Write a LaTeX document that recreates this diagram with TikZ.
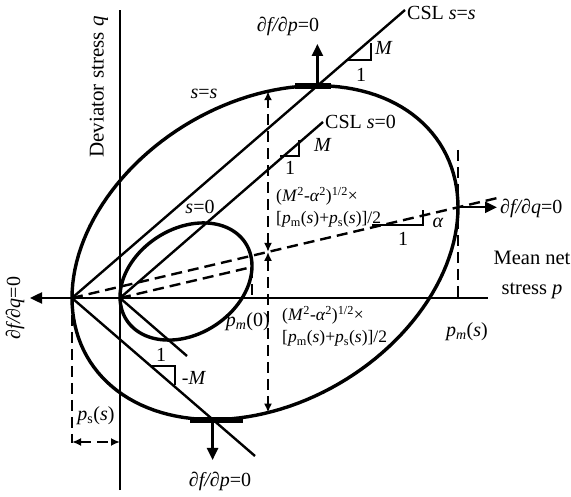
\documentclass[tikz,border=0pt]{standalone}
\usepackage{fontspec}
\setmainfont{Liberation Serif}
\usetikzlibrary{arrows.meta}

\tikzset{
  curve/.style={line width=3.4pt},
  ln/.style={line width=2.4pt},
  dsh/.style={line width=2.4pt, dash pattern=on 11pt off 6pt},
  tip/.style={-{Triangle[length=12pt,width=11pt]}},
  dtips/.style={{Latex[length=9pt,width=8pt]}-{Latex[length=9pt,width=8pt]}},
  lbl/.style={font=\fontsize{20}{24}\selectfont, inner sep=0pt},
  frm/.style={font=\fontsize{17.5}{22}\selectfont, inner sep=0pt, align=left},
}

\begin{document}
\begin{tikzpicture}[x=1pt,y=1pt]
\useasboundingbox (0,0) rectangle (571,496);
\clip (0,0) rectangle (571,496);
\coordinate (O) at (120,198);
\coordinate (PL) at (72,198);
\coordinate (qtop) at (120,486);
\coordinate (qbot) at (120,6);
\coordinate (pend) at (488,198);
\coordinate (qleft) at (30,198);
\coordinate (cslS) at (405,486);
\coordinate (csl0) at (323,374);
\coordinate (negS) at (255,40);
\coordinate (neg0) at (187,140);
\coordinate (alEnd) at (500,298.6);
\coordinate (R) at (458,288.7);
\coordinate (Rout) at (497,288.7);
\coordinate (Rtop) at (458,346);
\coordinate (Rfoot) at (458,196);
\coordinate (R0) at (252,229);
\coordinate (R0foot) at (252,198);
\coordinate (T) at (317.4,410.3);
\coordinate (Tup) at (317.4,452);
\coordinate (B) at (212.6,76.4);
\coordinate (Bdn) at (212.6,36);
\coordinate (Cc) at (268,244.1);
\coordinate (Ct) at (268,404.8);
\coordinate (Cb) at (268,83.4);
\coordinate (psfoot) at (72,53);
\coordinate (psL) at (72,54);
\coordinate (psR) at (120,54);

\draw[ln] (qbot) -- (qtop);
\draw[ln] (PL) -- (pend);
\draw[ln, tip] (PL) -- (qleft);
\draw[curve] plot[domain=0:360, samples=145] ({265+193*cos(\x)}, {243.36+45.36*cos(\x)+160.67*sin(\x)}) -- cycle;
\draw[curve] plot[domain=0:360, samples=97] ({186+66*cos(\x)}, {214.5+15.51*cos(\x)+56.5*sin(\x)}) -- cycle;
\draw[ln] (PL) -- (cslS);
\draw[ln] (PL) -- (negS);
\draw[ln] (O) -- (csl0);
\draw[ln] (O) -- (neg0);
\foreach \xa/\ya/\xb/\yb in {348/436/371/453, 280/340/299/356, 150/130/175/111, 372/271/423/286}
  \draw[ln] (\xa,\ya) -| (\xb,\yb);
\draw[dsh] (PL) -- (alEnd);
\draw[dsh] (O) -- (R0);
\draw[dsh] (R0) -- (R0foot);
\draw[dsh] (Rtop) -- (Rfoot);
\draw[dsh] (PL) -- (psfoot);
\draw[dsh, dtips] (psL) -- (psR);
\draw[dsh, dtips] (Cc) -- (Ct);
\draw[dsh, dtips] (Cc) -- (Cb);
\draw[line width=6pt] (T) ++(-22,0) -- ++(36,0);
\draw[line width=6pt] (B) ++(-23,0) -- ++(53,0);
\draw[ln, tip] (T) -- (Tup);
\draw[ln, tip] (B) -- (Bdn);
\draw[ln, tip] (R) -- (Rout);

\node[lbl, anchor=west] (cslSlab) at (407,483) {CSL \textit{s}=\textit{s}};
\node[lbl, anchor=west] (csl0lab) at (325,374) {CSL \textit{s}=0};
\node[lbl] (mS) at (384,448) {\textit{M}};
\node[lbl] (oneS) at (361,421) {1};
\node[lbl] (m0) at (323,351) {\textit{M}};
\node[lbl] (one0) at (290,328) {1};
\node[lbl] (oneN) at (161,141) {1};
\node[lbl] (mN) at (194,118) {-\textit{M}};
\node[lbl] (al) at (438,273) {\textit{α}};
\node[lbl] (oneA) at (403,257) {1};
\node[lbl] (ss) at (204,402) {\textit{s}=\textit{s}};
\node[lbl] (s0) at (200,289) {\textit{s}=0};
\node[frm, anchor=west] (hup) at (276,288.5) {(\textit{M}\textsuperscript{2}-\textit{α}\textsuperscript{2})\textsuperscript{1/2}×\\{}[\textit{p}\textsubscript{m}(\textit{s})+\textit{p}\textsubscript{s}(\textit{s})]/2};
\node[frm, anchor=west] (hdn) at (282,169.5) {(\textit{M}\textsuperscript{2}-\textit{α}\textsuperscript{2})\textsuperscript{1/2}×\\{}[\textit{p}\textsubscript{m}(\textit{s})+\textit{p}\textsubscript{s}(\textit{s})]/2};
\node[lbl, anchor=east] (pm0) at (270,174) {\textit{p\textsubscript{m}}(0)};
\node[lbl, anchor=east] (pms) at (488,164) {\textit{p\textsubscript{m}}(\textit{s})};
\node[lbl] (pss) at (96,80) {\textit{p}\textsubscript{s}(\textit{s})};
\node[lbl] (dfpT) at (288,470) {\textit{∂f/∂p}=0};
\node[lbl] (dfpB) at (220,15) {\textit{∂f/∂p}=0};
\node[lbl, anchor=west] (dfqR) at (500,288) {\textit{∂f/∂q}=0};
\node[lbl, rotate=90] (dfqL) at (15,188) {\textit{∂f/∂q}=0};
\node[lbl, rotate=90] (qlab) at (99,409) {\fontsize{21}{24}\selectfont Deviator stress \textit{q}};
\node[lbl, align=center, font=\fontsize{20.5}{30}\selectfont] (plab) at (532,221) {Mean net\\stress \textit{p}};
\end{tikzpicture}
\end{document}
